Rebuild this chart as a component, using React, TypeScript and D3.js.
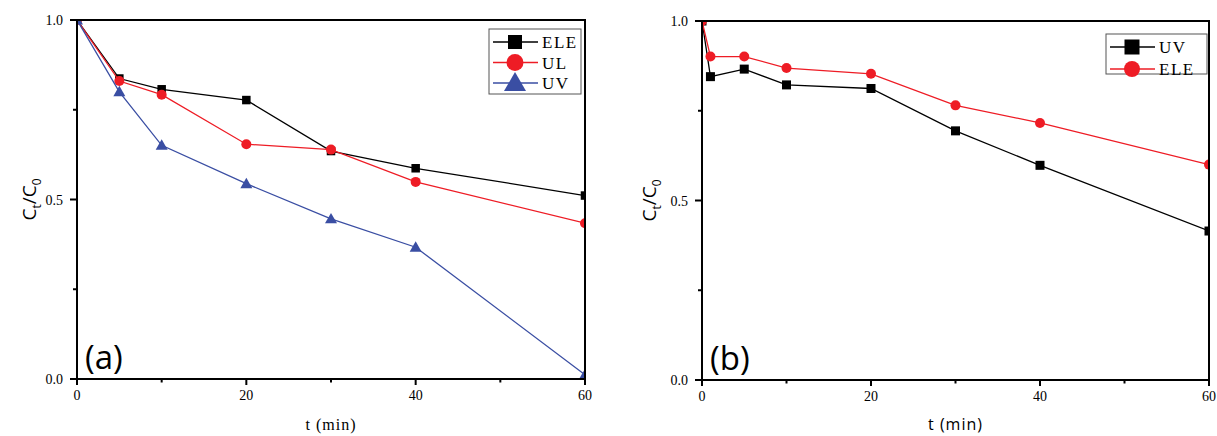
import React from 'react';
import * as d3 from 'd3';

// panel (a)
const timeA = [0, 5, 10, 20, 30, 40, 60];
const eleA = [1.0, 0.837, 0.807, 0.777, 0.635, 0.587, 0.511];
const ulA = [1.0, 0.83, 0.792, 0.654, 0.639, 0.549, 0.434];
const uvA = [1.0, 0.8, 0.651, 0.544, 0.446, 0.367, 0.012];

// panel (b)
const timeB = [0, 1, 5, 10, 20, 30, 40, 60];
const uvB = [1.0, 0.845, 0.866, 0.822, 0.812, 0.694, 0.598, 0.415];
const eleB = [1.0, 0.901, 0.901, 0.869, 0.853, 0.765, 0.716, 0.6];

const xTicks = [0, 20, 40, 60];
const xMinor = [10, 30, 50];
const yTicks = [0, 0.5, 1.0];
const yMinor = [0.25, 0.75];

const BLACK = '#000000';
const RED = '#ee1c25';
const BLUE = '#3a4ea3';
const SERIF = 'Liberation Serif, serif';
const SANS = 'Open Sans, Noto Sans, sans-serif';

function Marker({ shape, x, y, size, color }) {
    if (shape === 'square') {
        return <rect x={x - size / 2} y={y - size / 2} width={size} height={size} fill={color} />;
    }
    if (shape === 'circle') {
        return <circle cx={x} cy={y} r={size / 2} fill={color} />;
    }
    const area = (Math.sqrt(3) / 4) * size * size;
    const p = d3.symbol(d3.symbolTriangle, area)();
    return <path d={p} transform={`translate(${x},${y + size * 0.08})`} fill={color} />;
}

function Panel({ id, left, right, top, bottom, series, letter, legend, xLabelFont, ylabelX }) {
    const x = d3.scaleLinear().domain([0, 60]).range([left, right]);
    const y = d3.scaleLinear().domain([0, 1]).range([bottom, top]);
    const line = d3.line().x(d => x(d[0])).y(d => y(d[1]));

    return (
        <g>
            <defs>
                <clipPath id={id}>
                    <rect x={left} y={top} width={right - left} height={bottom - top} />
                </clipPath>
            </defs>

            {/* data */}
            <g clipPath={`url(#${id})`}>
                {series.map(s => {
                    const pts = s.t.map((t, i) => [t, s.v[i]]);
                    return (
                        <g key={s.name}>
                            <path d={line(pts)} fill="none" stroke={s.color} strokeWidth={1.3} />
                            {pts.map((p, i) => (
                                <Marker key={i} shape={s.shape} x={x(p[0])} y={y(p[1])} size={s.size} color={s.color} />
                            ))}
                        </g>
                    );
                })}
            </g>

            {/* frame */}
            <rect x={left} y={top} width={right - left} height={bottom - top} fill="none" stroke="#000" strokeWidth={2} />

            {/* x axis ticks */}
            {xTicks.map(t => (
                <g key={'xt' + t}>
                    <line x1={x(t)} x2={x(t)} y1={bottom} y2={bottom + 6} stroke="#000" strokeWidth={2} />
                    <text x={x(t)} y={bottom + 21} textAnchor="middle" fontFamily={SERIF} fontSize={14}>{t}</text>
                </g>
            ))}
            {xMinor.map(t => (
                <line key={'xm' + t} x1={x(t)} x2={x(t)} y1={bottom} y2={bottom + 3.5} stroke="#000" strokeWidth={2} />
            ))}

            {/* y axis ticks */}
            {yTicks.map(v => (
                <g key={'yt' + v}>
                    <line x1={left - 7} x2={left} y1={y(v)} y2={y(v)} stroke="#000" strokeWidth={2} />
                    <text x={left - 14} y={y(v) + 5} textAnchor="end" fontFamily={SERIF} fontSize={14}>{v.toFixed(1)}</text>
                </g>
            ))}
            {yMinor.map(v => (
                <line key={'ym' + v} x1={left - 4} x2={left} y1={y(v)} y2={y(v)} stroke="#000" strokeWidth={2} />
            ))}

            {/* axis titles */}
            <text x={(left + right) / 2} y={430} textAnchor="middle" fontFamily={xLabelFont} fontSize={16} letterSpacing={1}>t (min)</text>
            <text x={ylabelX} y={(top + bottom) / 2} textAnchor="middle" fontFamily={SANS} fontSize={19}
                transform={`rotate(-90, ${ylabelX}, ${(top + bottom) / 2})`}>
                C<tspan fontSize={12} dy={5}>t</tspan><tspan dy={-5}>/C</tspan><tspan fontSize={12} dy={5}>0</tspan>
            </text>

            {/* panel letter */}
            <text x={left + 8} y={bottom - 10} fontFamily={SANS} fontSize={33}>{letter}</text>

            {/* legend */}
            <rect x={legend.x} y={legend.y} width={legend.w} height={legend.h} fill="#fff" stroke="#555" strokeWidth={1} />
            {series.map((s, i) => {
                const ly = legend.y + 13 + i * legend.row;
                const lx = legend.x + 4;
                return (
                    <g key={'lg' + s.name}>
                        <line x1={lx} x2={lx + 45} y1={ly} y2={ly} stroke={s.color} strokeWidth={1.4} />
                        <Marker shape={s.shape} x={lx + 22} y={ly} size={s.legendSize} color={s.color} />
                        <text x={lx + 49} y={ly + 6} fontFamily={SERIF} fontSize={17} letterSpacing={1.5}>{s.name}</text>
                    </g>
                );
            })}
        </g>
    );
}

export default function App() {
    const seriesA = [
        { name: 'ELE', t: timeA, v: eleA, color: BLACK, shape: 'square', size: 8.5, legendSize: 14 },
        { name: 'UL', t: timeA, v: ulA, color: RED, shape: 'circle', size: 10, legendSize: 17 },
        { name: 'UV', t: timeA, v: uvA, color: BLUE, shape: 'triangle', size: 12, legendSize: 22 },
    ];
    const seriesB = [
        { name: 'UV', t: timeB, v: uvB, color: BLACK, shape: 'square', size: 9, legendSize: 15 },
        { name: 'ELE', t: timeB, v: eleB, color: RED, shape: 'circle', size: 10, legendSize: 16 },
    ];

    return (
        <svg width={1217} height={436} style={{ position: 'absolute', left: 0, top: 0, background: '#fff' }}>
            <Panel id="clipA" left={77} right={585} top={20} bottom={379} series={seriesA} letter="(a)"
                legend={{ x: 489, y: 29, w: 92, h: 65, row: 20.5 }} xLabelFont={SERIF} ylabelX={36} />
            <Panel id="clipB" left={702} right={1209} top={21} bottom={380} series={seriesB} letter="(b)"
                legend={{ x: 1106, y: 34, w: 101, h: 40, row: 22 }} xLabelFont={SANS} ylabelX={656} />
        </svg>
    );
}
